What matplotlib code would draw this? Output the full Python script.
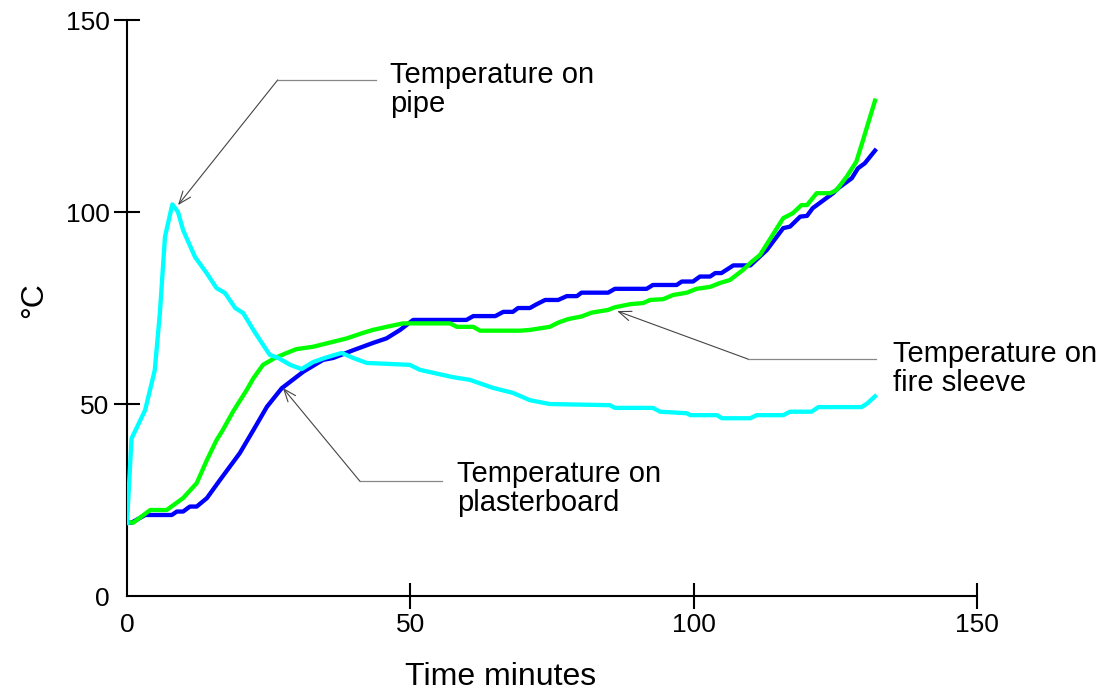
import matplotlib

matplotlib.use("Agg")
import matplotlib.pyplot as plt

plt.rcParams["font.family"] = ["Liberation Sans", "DejaVu Sans"]

# Temperature on pipe (cyan)
PIPE_T = [0, 0.8, 3.2, 4.9, 5.8, 6.7, 8.0, 9.0, 9.9, 12.0, 14.1, 15.8, 17.3, 19.1, 20.5,
          22.3, 23.8, 25.2, 26.7, 28.8, 30.8, 32.8, 34.9, 36.7, 37.9, 39.9, 42.3, 49.9,
          51.7, 57.5, 60.5, 64.6, 68.1, 71.1, 74.6, 85.2, 86.1, 92.8, 94.1, 98.8, 99.4,
          104.1, 105.0, 110.0, 111.1, 115.8, 117.0, 120.8, 122.0, 129.6, 130.5, 132.0]
PIPE_C = [19, 41, 48.4, 58.8, 73.6, 93.5, 102, 100, 95.3, 88.3, 84, 80.2, 78.9, 75, 73.7,
          69.3, 65.9, 62.8, 62, 60.2, 59.1, 60.9, 62, 62.8, 63.3, 62, 60.7, 60.2,
          58.9, 57, 56.3, 54.2, 52.9, 51, 50, 49.7, 49, 49, 48, 47.6, 47.1,
          47.1, 46.3, 46.3, 47.1, 47.1, 48, 48, 49.2, 49.2, 50, 52]

# Temperature on plasterboard (blue)
BOARD_T = [0, 0.8, 3.2, 7.9, 8.8, 9.9, 11.1, 12.3, 14.1, 16.4, 19.9, 22.3, 24.7, 27.3,
           31.1, 34.6, 36.4, 39.9, 43.4, 45.8, 48.2, 50.5, 59.9, 61.1, 65.0, 66.4, 68.1,
           69.0, 71.1, 72.3, 73.8, 76.1, 77.6, 79.4, 80.2, 84.9, 86.1, 91.7, 92.8, 97.0,
           97.9, 99.9, 101.1, 102.9, 103.8, 104.9, 107.0, 110.0, 112.9, 115.8, 117.0,
           118.8, 120.0, 121.0, 124.6, 125.5, 127.9, 129.0, 130.2, 132.0]
BOARD_C = [19.3, 19.1, 21.1, 21.1, 22, 22, 23.3, 23.3, 25.5, 30.2, 37.2, 43.2, 49.3, 54.1,
           58.4, 61.5, 62, 64, 65.9, 67.1, 69.3, 71.9, 71.9, 72.9, 72.9, 74, 74,
           75, 75, 76, 77.1, 77.1, 78.1, 78.1, 79, 79, 80, 80, 81, 81,
           81.9, 81.9, 83.2, 83.2, 84.1, 84.1, 86.1, 86.1, 90.1, 95.8, 96.2,
           98.8, 99, 101, 104.9, 106.2, 108.8, 111.4, 112.7, 116]

# Temperature on fire sleeve (green)
SLEEVE_T = [0, 1.1, 4.1, 7.0, 9.9, 12.3, 14.1, 15.8, 16.9, 18.7, 21.1, 22.3, 24.0, 26.1,
            28.2, 29.9, 32.8, 35.8, 38.8, 41.6, 43.4, 45.8, 48.7, 57.0, 58.2, 61.1, 62.3,
            69.4, 71.1, 74.6, 76.1, 77.8, 80.2, 82.0, 84.9, 86.1, 88.8, 91.1, 92.3, 94.6,
            96.4, 98.8, 100.5, 102.9, 104.6, 106.4, 108.7, 110.2, 111.7, 115.8, 117.5,
            119.0, 120.0, 121.7, 124.1, 125.2, 127.0, 128.7, 129.9, 130.8, 132.0]
SLEEVE_C = [19.3, 19.1, 22.4, 22.4, 25.5, 29.4, 35.4, 40.6, 43.2, 48, 53.6, 56.7, 60.2, 62,
            63.3, 64.3, 64.9, 66, 67.1, 68.5, 69.3, 70.1, 71, 71, 70.1, 70.1, 69.1,
            69.1, 69.3, 70.1, 71.2, 72.1, 72.8, 73.8, 74.5, 75.2, 76, 76.3, 77.1, 77.3,
            78.4, 79, 80, 80.5, 81.5, 82.3, 84.9, 87, 88.8, 98.4, 99.7,
            101.8, 101.8, 104.9, 104.9, 105.7, 109.2, 113.1, 118.8, 123.2, 129]

TICKS = [0, 50, 100, 150]

# label text, arrow tip, elbow, end of horizontal leader, text anchor (data coords)
CALLOUTS = [
    ("Temperature on\npipe", (9.0, 101.8), (26.6, 134.4), 43.9, (46.4, 139.4)),
    ("Temperature on\nplasterboard", (27.5, 54.2), (41.1, 29.9), 55.6, (58.2, 35.4)),
    ("Temperature on\nfire sleeve", (86.5, 74.2), (109.6, 61.7), 132.2, (135.2, 66.7)),
]

fig = plt.figure(figsize=(11.11, 6.95), dpi=100)
ax = fig.add_axes([0.1143, 0.1424, 0.7651, 0.8288])

ax.plot(BOARD_T, BOARD_C, color="#0000ff", linewidth=3.1, zorder=3)
ax.plot(SLEEVE_T, SLEEVE_C, color="#00ff00", linewidth=3.1, zorder=3)
ax.plot(PIPE_T, PIPE_C, color="#00ffff", linewidth=3.1, zorder=3)

for text, tip, knee, end_x, pos in CALLOUTS:
    ax.annotate("", xy=tip, xytext=knee,
                arrowprops=dict(arrowstyle="->,head_length=0.9,head_width=0.35",
                                color="#444444", linewidth=0.8,
                                shrinkA=0, shrinkB=0))
    ax.plot([knee[0], end_x], [knee[1], knee[1]], color="#888888", linewidth=0.9,
            clip_on=False)
    ax.text(pos[0], pos[1], text, fontsize=21, ha="left", va="top",
            linespacing=1.05, clip_on=False)

ax.set_xlim(0, 150)
ax.set_ylim(0, 150)
ax.set_xticks(TICKS)
ax.set_yticks(TICKS)
ax.tick_params(direction="inout", length=19, width=1.5, labelsize=19, pad=3)
ax.xaxis.get_major_ticks()[0].tick1line.set_visible(False)
ax.yaxis.get_major_ticks()[0].tick1line.set_visible(False)

for side in ("top", "right"):
    ax.spines[side].set_visible(False)
for side in ("left", "bottom"):
    ax.spines[side].set_linewidth(1.5)

ax.set_xlabel("Time minutes", fontsize=23)
ax.xaxis.set_label_coords(0.439, -0.115)
ax.set_ylabel("°C", fontsize=23)
ax.yaxis.set_label_coords(-0.092, 0.514)

fig.savefig("out.png", dpi=100)
